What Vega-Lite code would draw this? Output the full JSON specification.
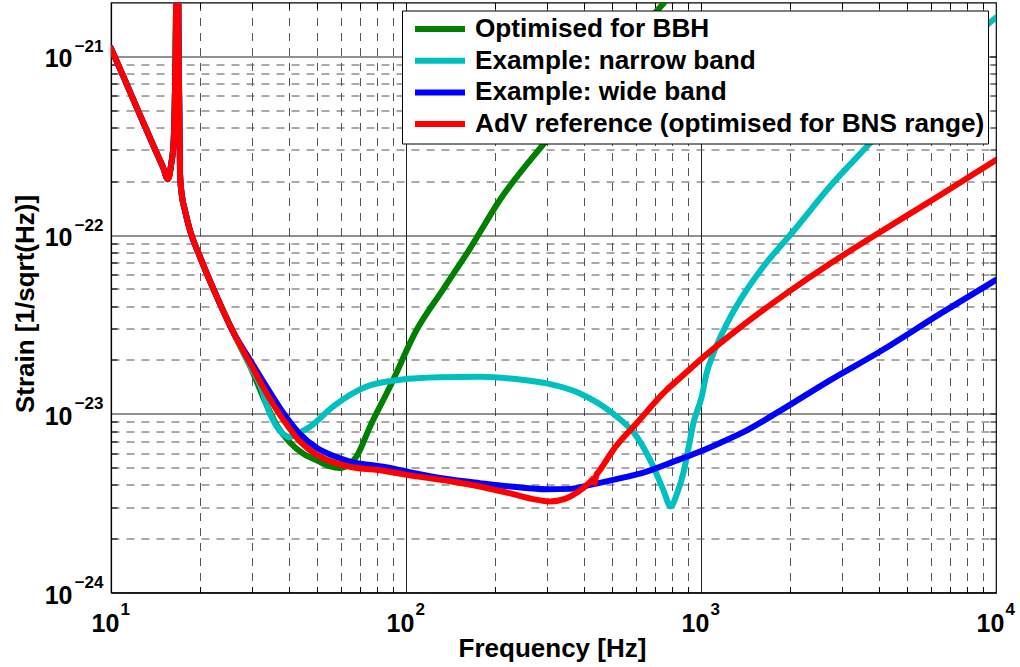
{
  "$schema": "https://vega.github.io/schema/vega-lite/v6.json",
  "width": 885,
  "height": 590,
  "autosize": "none",
  "padding": {"left": 111, "top": 2.5, "right": 24, "bottom": 74.5},
  "background": "white",
  "config": {"view": {"stroke": "#000", "strokeWidth": 1.2}, "font": "Liberation Sans"},
  "datasets": {
    "curves": [
      {"series": "Optimised for BBH", "f": 10, "h": 1.11e-21},
      {"series": "Optimised for BBH", "f": 11, "h": 7.75e-22},
      {"series": "Optimised for BBH", "f": 12.5, "h": 4.75e-22},
      {"series": "Optimised for BBH", "f": 14, "h": 3.1e-22},
      {"series": "Optimised for BBH", "f": 15, "h": 2.4e-22},
      {"series": "Optimised for BBH", "f": 15.6, "h": 2.05e-22},
      {"series": "Optimised for BBH", "f": 16.0, "h": 2.5e-22},
      {"series": "Optimised for BBH", "f": 16.3, "h": 3.3e-22},
      {"series": "Optimised for BBH", "f": 16.55, "h": 1.0e-21},
      {"series": "Optimised for BBH", "f": 16.8, "h": 1e-20},
      {"series": "Optimised for BBH", "f": 16.95, "h": 1.1e-21},
      {"series": "Optimised for BBH", "f": 17.14, "h": 2.2e-22},
      {"series": "Optimised for BBH", "f": 17.4, "h": 1.65e-22},
      {"series": "Optimised for BBH", "f": 17.8, "h": 1.38e-22},
      {"series": "Optimised for BBH", "f": 18.5, "h": 1.07e-22},
      {"series": "Optimised for BBH", "f": 20, "h": 7.6e-23},
      {"series": "Optimised for BBH", "f": 22.8, "h": 4.55e-23},
      {"series": "Optimised for BBH", "f": 26, "h": 2.85e-23},
      {"series": "Optimised for BBH", "f": 29.6, "h": 1.85e-23},
      {"series": "Optimised for BBH", "f": 33.7, "h": 1.12e-23},
      {"series": "Optimised for BBH", "f": 36.5, "h": 8.6e-24},
      {"series": "Optimised for BBH", "f": 40.4, "h": 6.9e-24},
      {"series": "Optimised for BBH", "f": 45, "h": 5.95e-24},
      {"series": "Optimised for BBH", "f": 49.8, "h": 5.5e-24},
      {"series": "Optimised for BBH", "f": 55, "h": 5.1e-24},
      {"series": "Optimised for BBH", "f": 59.7, "h": 4.97e-24},
      {"series": "Optimised for BBH", "f": 64, "h": 5.2e-24},
      {"series": "Optimised for BBH", "f": 68.1, "h": 5.8e-24},
      {"series": "Optimised for BBH", "f": 75.5, "h": 8.47e-24},
      {"series": "Optimised for BBH", "f": 88.3, "h": 1.42e-23},
      {"series": "Optimised for BBH", "f": 108.6, "h": 2.94e-23},
      {"series": "Optimised for BBH", "f": 134, "h": 5.0e-23},
      {"series": "Optimised for BBH", "f": 165, "h": 8.43e-23},
      {"series": "Optimised for BBH", "f": 208, "h": 1.57e-22},
      {"series": "Optimised for BBH", "f": 300, "h": 3.4e-22},
      {"series": "Optimised for BBH", "f": 455, "h": 7.8e-22},
      {"series": "Optimised for BBH", "f": 765, "h": 2.07e-21},
      {"series": "Optimised for BBH", "f": 800, "h": 2.25e-21},

      {"series": "Example: narrow band", "f": 10, "h": 1.11e-21},
      {"series": "Example: narrow band", "f": 11, "h": 7.75e-22},
      {"series": "Example: narrow band", "f": 12.5, "h": 4.75e-22},
      {"series": "Example: narrow band", "f": 14, "h": 3.1e-22},
      {"series": "Example: narrow band", "f": 15, "h": 2.4e-22},
      {"series": "Example: narrow band", "f": 15.6, "h": 2.05e-22},
      {"series": "Example: narrow band", "f": 16.0, "h": 2.5e-22},
      {"series": "Example: narrow band", "f": 16.3, "h": 3.3e-22},
      {"series": "Example: narrow band", "f": 16.55, "h": 1.0e-21},
      {"series": "Example: narrow band", "f": 16.8, "h": 1e-20},
      {"series": "Example: narrow band", "f": 16.95, "h": 1.1e-21},
      {"series": "Example: narrow band", "f": 17.14, "h": 2.2e-22},
      {"series": "Example: narrow band", "f": 17.4, "h": 1.65e-22},
      {"series": "Example: narrow band", "f": 17.8, "h": 1.38e-22},
      {"series": "Example: narrow band", "f": 18.5, "h": 1.07e-22},
      {"series": "Example: narrow band", "f": 20, "h": 7.6e-23},
      {"series": "Example: narrow band", "f": 22.8, "h": 4.55e-23},
      {"series": "Example: narrow band", "f": 26, "h": 2.85e-23},
      {"series": "Example: narrow band", "f": 29.6, "h": 1.85e-23},
      {"series": "Example: narrow band", "f": 32.0, "h": 1.45e-23},
      {"series": "Example: narrow band", "f": 34.6, "h": 1.0e-23},
      {"series": "Example: narrow band", "f": 37, "h": 8.2e-24},
      {"series": "Example: narrow band", "f": 39, "h": 7.55e-24},
      {"series": "Example: narrow band", "f": 40.4, "h": 7.4e-24},
      {"series": "Example: narrow band", "f": 42.5, "h": 7.7e-24},
      {"series": "Example: narrow band", "f": 47.3, "h": 8.47e-24},
      {"series": "Example: narrow band", "f": 56.7, "h": 1.1e-23},
      {"series": "Example: narrow band", "f": 73.6, "h": 1.42e-23},
      {"series": "Example: narrow band", "f": 95.5, "h": 1.55e-23},
      {"series": "Example: narrow band", "f": 130, "h": 1.6e-23},
      {"series": "Example: narrow band", "f": 178, "h": 1.61e-23},
      {"series": "Example: narrow band", "f": 240, "h": 1.56e-23},
      {"series": "Example: narrow band", "f": 300, "h": 1.48e-23},
      {"series": "Example: narrow band", "f": 389, "h": 1.30e-23},
      {"series": "Example: narrow band", "f": 504, "h": 1.0e-23},
      {"series": "Example: narrow band", "f": 605, "h": 7.46e-24},
      {"series": "Example: narrow band", "f": 689, "h": 5.07e-24},
      {"series": "Example: narrow band", "f": 745, "h": 3.75e-24},
      {"series": "Example: narrow band", "f": 789, "h": 3.03e-24},
      {"series": "Example: narrow band", "f": 830, "h": 3.6e-24},
      {"series": "Example: narrow band", "f": 871, "h": 4.65e-24},
      {"series": "Example: narrow band", "f": 905, "h": 6.3e-24},
      {"series": "Example: narrow band", "f": 942, "h": 8.85e-24},
      {"series": "Example: narrow band", "f": 1006, "h": 1.25e-23},
      {"series": "Example: narrow band", "f": 1045, "h": 1.69e-23},
      {"series": "Example: narrow band", "f": 1098, "h": 2.15e-23},
      {"series": "Example: narrow band", "f": 1225, "h": 3.2e-23},
      {"series": "Example: narrow band", "f": 1432, "h": 4.96e-23},
      {"series": "Example: narrow band", "f": 1626, "h": 6.65e-23},
      {"series": "Example: narrow band", "f": 2055, "h": 1.05e-22},
      {"series": "Example: narrow band", "f": 2735, "h": 1.87e-22},
      {"series": "Example: narrow band", "f": 3740, "h": 3.26e-22},
      {"series": "Example: narrow band", "f": 5000, "h": 5.5e-22},
      {"series": "Example: narrow band", "f": 7000, "h": 9.8e-22},
      {"series": "Example: narrow band", "f": 10000, "h": 1.65e-21},

      {"series": "Example: wide band", "f": 10, "h": 1.11e-21},
      {"series": "Example: wide band", "f": 11, "h": 7.75e-22},
      {"series": "Example: wide band", "f": 12.5, "h": 4.75e-22},
      {"series": "Example: wide band", "f": 14, "h": 3.1e-22},
      {"series": "Example: wide band", "f": 15, "h": 2.4e-22},
      {"series": "Example: wide band", "f": 15.6, "h": 2.05e-22},
      {"series": "Example: wide band", "f": 16.0, "h": 2.5e-22},
      {"series": "Example: wide band", "f": 16.3, "h": 3.3e-22},
      {"series": "Example: wide band", "f": 16.55, "h": 1.0e-21},
      {"series": "Example: wide band", "f": 16.8, "h": 1e-20},
      {"series": "Example: wide band", "f": 16.95, "h": 1.1e-21},
      {"series": "Example: wide band", "f": 17.14, "h": 2.2e-22},
      {"series": "Example: wide band", "f": 17.4, "h": 1.65e-22},
      {"series": "Example: wide band", "f": 17.8, "h": 1.38e-22},
      {"series": "Example: wide band", "f": 18.5, "h": 1.07e-22},
      {"series": "Example: wide band", "f": 20, "h": 7.6e-23},
      {"series": "Example: wide band", "f": 22.8, "h": 4.55e-23},
      {"series": "Example: wide band", "f": 26, "h": 2.85e-23},
      {"series": "Example: wide band", "f": 29.6, "h": 2.0e-23},
      {"series": "Example: wide band", "f": 33.7, "h": 1.41e-23},
      {"series": "Example: wide band", "f": 38.4, "h": 1.01e-23},
      {"series": "Example: wide band", "f": 43.7, "h": 7.7e-24},
      {"series": "Example: wide band", "f": 49.8, "h": 6.46e-24},
      {"series": "Example: wide band", "f": 57, "h": 5.8e-24},
      {"series": "Example: wide band", "f": 64.6, "h": 5.4e-24},
      {"series": "Example: wide band", "f": 83.8, "h": 5.05e-24},
      {"series": "Example: wide band", "f": 100.5, "h": 4.75e-24},
      {"series": "Example: wide band", "f": 140, "h": 4.3e-24},
      {"series": "Example: wide band", "f": 178, "h": 4.09e-24},
      {"series": "Example: wide band", "f": 231, "h": 3.9e-24},
      {"series": "Example: wide band", "f": 300, "h": 3.78e-24},
      {"series": "Example: wide band", "f": 360, "h": 3.8e-24},
      {"series": "Example: wide band", "f": 421, "h": 4.0e-24},
      {"series": "Example: wide band", "f": 504, "h": 4.27e-24},
      {"series": "Example: wide band", "f": 654, "h": 4.75e-24},
      {"series": "Example: wide band", "f": 803, "h": 5.38e-24},
      {"series": "Example: wide band", "f": 993, "h": 6.15e-24},
      {"series": "Example: wide band", "f": 1160, "h": 6.87e-24},
      {"series": "Example: wide band", "f": 1429, "h": 8.07e-24},
      {"series": "Example: wide band", "f": 1853, "h": 1.038e-23},
      {"series": "Example: wide band", "f": 2735, "h": 1.538e-23},
      {"series": "Example: wide band", "f": 4046, "h": 2.23e-23},
      {"series": "Example: wide band", "f": 6457, "h": 3.62e-23},
      {"series": "Example: wide band", "f": 10000, "h": 5.61e-23},

      {"series": "AdV reference (optimised for BNS range)", "f": 10, "h": 1.11e-21},
      {"series": "AdV reference (optimised for BNS range)", "f": 11, "h": 7.75e-22},
      {"series": "AdV reference (optimised for BNS range)", "f": 12.5, "h": 4.75e-22},
      {"series": "AdV reference (optimised for BNS range)", "f": 14, "h": 3.1e-22},
      {"series": "AdV reference (optimised for BNS range)", "f": 15, "h": 2.4e-22},
      {"series": "AdV reference (optimised for BNS range)", "f": 15.6, "h": 2.05e-22},
      {"series": "AdV reference (optimised for BNS range)", "f": 16.0, "h": 2.5e-22},
      {"series": "AdV reference (optimised for BNS range)", "f": 16.3, "h": 3.3e-22},
      {"series": "AdV reference (optimised for BNS range)", "f": 16.55, "h": 1.0e-21},
      {"series": "AdV reference (optimised for BNS range)", "f": 16.8, "h": 1e-20},
      {"series": "AdV reference (optimised for BNS range)", "f": 16.95, "h": 1.1e-21},
      {"series": "AdV reference (optimised for BNS range)", "f": 17.14, "h": 2.2e-22},
      {"series": "AdV reference (optimised for BNS range)", "f": 17.4, "h": 1.65e-22},
      {"series": "AdV reference (optimised for BNS range)", "f": 17.8, "h": 1.38e-22},
      {"series": "AdV reference (optimised for BNS range)", "f": 18.5, "h": 1.07e-22},
      {"series": "AdV reference (optimised for BNS range)", "f": 20, "h": 7.6e-23},
      {"series": "AdV reference (optimised for BNS range)", "f": 22.8, "h": 4.55e-23},
      {"series": "AdV reference (optimised for BNS range)", "f": 26, "h": 2.85e-23},
      {"series": "AdV reference (optimised for BNS range)", "f": 29.6, "h": 1.92e-23},
      {"series": "AdV reference (optimised for BNS range)", "f": 33.7, "h": 1.30e-23},
      {"series": "AdV reference (optimised for BNS range)", "f": 38.4, "h": 9.24e-24},
      {"series": "AdV reference (optimised for BNS range)", "f": 43.7, "h": 7.0e-24},
      {"series": "AdV reference (optimised for BNS range)", "f": 49.8, "h": 5.89e-24},
      {"series": "AdV reference (optimised for BNS range)", "f": 57, "h": 5.35e-24},
      {"series": "AdV reference (optimised for BNS range)", "f": 64.6, "h": 5.05e-24},
      {"series": "AdV reference (optimised for BNS range)", "f": 83.8, "h": 4.8e-24},
      {"series": "AdV reference (optimised for BNS range)", "f": 100.5, "h": 4.55e-24},
      {"series": "AdV reference (optimised for BNS range)", "f": 140, "h": 4.2e-24},
      {"series": "AdV reference (optimised for BNS range)", "f": 178, "h": 3.92e-24},
      {"series": "AdV reference (optimised for BNS range)", "f": 231, "h": 3.55e-24},
      {"series": "AdV reference (optimised for BNS range)", "f": 270, "h": 3.33e-24},
      {"series": "AdV reference (optimised for BNS range)", "f": 307.6, "h": 3.23e-24},
      {"series": "AdV reference (optimised for BNS range)", "f": 346, "h": 3.34e-24},
      {"series": "AdV reference (optimised for BNS range)", "f": 379, "h": 3.61e-24},
      {"series": "AdV reference (optimised for BNS range)", "f": 421, "h": 4.16e-24},
      {"series": "AdV reference (optimised for BNS range)", "f": 432, "h": 4.35e-24},
      {"series": "AdV reference (optimised for BNS range)", "f": 436, "h": 4.1e-24},
      {"series": "AdV reference (optimised for BNS range)", "f": 441, "h": 4.5e-24},
      {"series": "AdV reference (optimised for BNS range)", "f": 455, "h": 4.85e-24},
      {"series": "AdV reference (optimised for BNS range)", "f": 504, "h": 6.28e-24},
      {"series": "AdV reference (optimised for BNS range)", "f": 605, "h": 8.85e-24},
      {"series": "AdV reference (optimised for BNS range)", "f": 765, "h": 1.36e-23},
      {"series": "AdV reference (optimised for BNS range)", "f": 849, "h": 1.585e-23},
      {"series": "AdV reference (optimised for BNS range)", "f": 993, "h": 2.0e-23},
      {"series": "AdV reference (optimised for BNS range)", "f": 1254, "h": 2.745e-23},
      {"series": "AdV reference (optimised for BNS range)", "f": 1585, "h": 3.69e-23},
      {"series": "AdV reference (optimised for BNS range)", "f": 2003, "h": 4.87e-23},
      {"series": "AdV reference (optimised for BNS range)", "f": 2735, "h": 6.9e-23},
      {"series": "AdV reference (optimised for BNS range)", "f": 3951, "h": 1.014e-22},
      {"series": "AdV reference (optimised for BNS range)", "f": 6457, "h": 1.67e-22},
      {"series": "AdV reference (optimised for BNS range)", "f": 10000, "h": 2.63e-22}
    ]
  },
  "data": {"name": "curves"},
  "layer": [
    {
      "mark": {"type": "point", "opacity": 0, "clip": true},
      "encoding": {
        "x": {"field": "f", "type": "quantitative",
          "scale": {"type": "log", "domain": [10, 10000], "nice": false},
          "axis": {"orient": "bottom", "zindex": 0, "values": [20,30,40,50,60,70,80,90,200,300,400,500,600,700,800,900,2000,3000,4000,5000,6000,7000,8000,9000],
            "grid": true, "gridColor": "#555", "gridDash": [8, 7], "gridWidth": 1, "gridOpacity": 1,
            "labels": false, "ticks": true, "tickSize": -6, "tickColor": "#000", "tickWidth": 1, "domain": false, "title": null}},
        "y": {"field": "h", "type": "quantitative",
          "scale": {"type": "log", "domain": [1e-24, 2e-21], "nice": false},
          "axis": {"orient": "left", "zindex": 0, "values": [2e-24,3e-24,4e-24,5e-24,6e-24,7e-24,8e-24,9e-24,2e-23,3e-23,4e-23,5e-23,6e-23,7e-23,8e-23,9e-23,2e-22,3e-22,4e-22,5e-22,6e-22,7e-22,8e-22,9e-22],
            "grid": true, "gridColor": "#555", "gridDash": [8, 7], "gridWidth": 1, "gridOpacity": 1,
            "labels": false, "ticks": true, "tickSize": -6, "tickColor": "#000", "tickWidth": 1, "domain": false, "title": null}}
      }
    },
    {
      "mark": {"type": "point", "opacity": 0, "clip": true},
      "encoding": {
        "x": {"field": "f", "type": "quantitative",
          "scale": {"type": "log", "domain": [10, 10000], "nice": false},
          "axis": {"orient": "bottom", "zindex": 0, "values": [10, 100, 1000, 10000],
            "grid": true, "gridColor": "#222", "gridWidth": 1, "gridOpacity": 1,
            "ticks": false, "domain": true, "domainColor": "#000", "domainWidth": 1.2,
            "labelExpr": "'10'", "labelFont": "Liberation Sans", "labelFontSize": 25, "labelFontWeight": "bold", "labelColor": "#000",
            "labelBaseline": "alphabetic", "labelAlign": "center", "labelPadding": 39, "labelOffset": -6, "labelFlush": false, "labelOverlap": false,
            "title": "Frequency [Hz]", "titleFont": "Liberation Sans", "titleFontSize": 26, "titleFontWeight": "bold", "titleColor": "#000",
            "titleX": 441, "titleY": 64, "titleAlign": "center", "titleBaseline": "alphabetic"}},
        "y": {"field": "h", "type": "quantitative",
          "scale": {"type": "log", "domain": [1e-24, 2e-21], "nice": false},
          "axis": {"orient": "left", "zindex": 0, "values": [1e-24, 1e-23, 1e-22, 1e-21],
            "grid": true, "gridColor": "#222", "gridWidth": 1, "gridOpacity": 1,
            "ticks": false, "domain": true, "domainColor": "#000", "domainWidth": 1.2,
            "labelExpr": "'10'", "labelFont": "Liberation Sans", "labelFontSize": 25, "labelFontWeight": "bold", "labelColor": "#000",
            "labelBaseline": "alphabetic", "labelAlign": "right", "labelPadding": 39, "labelOffset": 10.5, "labelFlush": false, "labelOverlap": false,
            "title": "Strain [1/sqrt(Hz)]", "titleFont": "Liberation Sans", "titleFontSize": 26, "titleFontWeight": "bold", "titleColor": "#000",
            "titleX": -86, "titleY": 301, "titleAngle": -90, "titleAlign": "center", "titleBaseline": "middle"}}
      }
    },
    {
      "mark": {"type": "point", "opacity": 0, "clip": true},
      "encoding": {
        "x": {"field": "f", "type": "quantitative",
          "scale": {"type": "log", "domain": [10, 10000], "nice": false},
          "axis": {"orient": "bottom", "values": [10, 100, 1000, 10000], "grid": false, "ticks": false, "domain": false,
            "labelExpr": "'' + round(log(datum.value) / LN10)", "labelFont": "Liberation Sans", "labelFontSize": 17, "labelFontWeight": "bold", "labelColor": "#000",
            "labelBaseline": "alphabetic", "labelAlign": "left", "labelPadding": 22, "labelOffset": 9, "labelFlush": false, "labelOverlap": false, "title": null}},
        "y": {"field": "h", "type": "quantitative",
          "scale": {"type": "log", "domain": [1e-24, 2e-21], "nice": false},
          "axis": {"orient": "left", "values": [1e-24, 1e-23, 1e-22, 1e-21], "grid": false, "ticks": false, "domain": false,
            "labelExpr": "'\u2212' + round(-log(datum.value) / LN10)", "labelFont": "Liberation Sans", "labelFontSize": 17, "labelFontWeight": "bold", "labelColor": "#000",
            "labelBaseline": "alphabetic", "labelAlign": "right", "labelPadding": 8, "labelOffset": -5, "labelFlush": false, "labelOverlap": false, "title": null}}
      }
    },
    {
      "mark": {"type": "line", "strokeWidth": 6, "clip": true, "strokeJoin": "round", "strokeCap": "round", "interpolate": "monotone"},
      "encoding": {
        "x": {"field": "f", "type": "quantitative",
          "scale": {"type": "log", "domain": [10, 10000], "nice": false},
          "axis": {"orient": "top", "values": [20,30,40,50,60,70,80,90,100,200,300,400,500,600,700,800,900,1000,2000,3000,4000,5000,6000,7000,8000,9000],
            "grid": false, "labels": false, "ticks": true, "tickSize": -6, "tickColor": "#000", "tickWidth": 1, "domain": false, "title": null}},
        "y": {"field": "h", "type": "quantitative",
          "scale": {"type": "log", "domain": [1e-24, 2e-21], "nice": false},
          "axis": {"orient": "right", "values": [2e-24,3e-24,4e-24,5e-24,6e-24,7e-24,8e-24,9e-24,1e-23,2e-23,3e-23,4e-23,5e-23,6e-23,7e-23,8e-23,9e-23,1e-22,2e-22,3e-22,4e-22,5e-22,6e-22,7e-22,8e-22,9e-22,1e-21],
            "grid": false, "labels": false, "ticks": true, "tickSize": -6, "tickColor": "#000", "tickWidth": 1, "domain": false, "title": null}},
        "color": {"field": "series", "type": "nominal",
          "scale": {"domain": ["Optimised for BBH", "Example: narrow band", "Example: wide band", "AdV reference (optimised for BNS range)"],
                    "range": ["#008000", "#00BFBF", "#0000FF", "#FF0000"]},
          "legend": {"orient": "top-right", "offset": 8, "title": null,
            "symbolType": "stroke", "symbolSize": 2500, "symbolStrokeWidth": 6,
            "labelFont": "Liberation Sans", "labelFontSize": 26.2, "labelFontWeight": "bold", "labelColor": "#000", "labelLimit": 1000,
            "labelOffset": 7, "symbolOffset": 7, "padding": 3, "clipHeight": 31, "rowPadding": 0.7,
            "strokeColor": "#000", "fillColor": "#fff", "cornerRadius": 0}}
      }
    }
  ],
  "resolve": {"axis": {"x": "independent", "y": "independent"}}
}
